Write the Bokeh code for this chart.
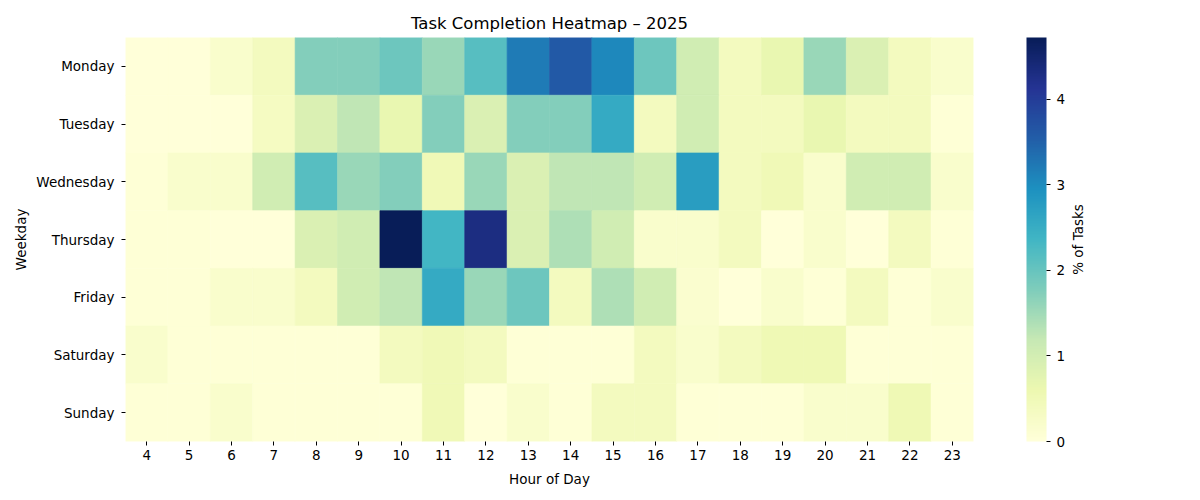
import numpy as np
from bokeh.plotting import figure
from bokeh.layouts import row
from bokeh.models import (ColumnDataSource, LinearColorMapper, ColorBar, FixedTicker)
from bokeh.transform import transform
from bokeh.embed import file_html
from bokeh.resources import INLINE

hours = [str(h) for h in range(4, 24)]
days = ["Monday", "Tuesday", "Wednesday", "Thursday", "Friday", "Saturday", "Sunday"]

monday    = [0.0, 0.0, 0.2, 0.4, 1.75, 1.75, 1.95, 1.55, 2.15, 3.2, 3.6, 3.05, 1.95, 1.05, 0.4, 0.65, 1.55, 0.9, 0.4, 0.2]
tuesday   = [0.0, 0.0, 0.0, 0.35, 0.9, 1.25, 0.65, 1.75, 0.9, 1.75, 1.75, 2.55, 0.4, 1.05, 0.4, 0.4, 0.65, 0.4, 0.4, 0.05]
wednesday = [0.05, 0.2, 0.2, 1.05, 2.15, 1.55, 1.75, 0.5, 1.55, 0.9, 1.25, 1.25, 1.05, 2.75, 0.4, 0.5, 0.2, 1.05, 1.05, 0.2]
thursday  = [0.05, 0.05, 0.0, 0.0, 0.9, 1.05, 4.72, 2.35, 4.3, 0.9, 1.4, 1.05, 0.2, 0.2, 0.4, 0.0, 0.2, 0.0, 0.4, 0.05]
friday    = [0.05, 0.05, 0.2, 0.2, 0.4, 1.05, 1.25, 2.55, 1.55, 1.95, 0.4, 1.4, 1.05, 0.15, 0.0, 0.2, 0.05, 0.4, 0.05, 0.2]
saturday  = [0.2, 0.05, 0.05, 0.05, 0.05, 0.05, 0.4, 0.5, 0.4, 0.05, 0.05, 0.05, 0.4, 0.2, 0.4, 0.55, 0.55, 0.05, 0.05, 0.05]
sunday    = [0.05, 0.05, 0.2, 0.05, 0.05, 0.05, 0.05, 0.5, 0.0, 0.2, 0.05, 0.4, 0.4, 0.05, 0.05, 0.05, 0.2, 0.2, 0.55, 0.05]

rows = [monday, tuesday, wednesday, thursday, friday, saturday, sunday]
VMAX = 4.72
cbar_ticks = [0, 1, 2, 3, 4]

# YlGnBu colormap (light -> dark), interpolated to 256 steps
anchors = ["#ffffd9", "#edf8b1", "#c7e9b4", "#7fcdbb", "#41b6c4",
           "#1d91c0", "#225ea8", "#253494", "#081d58"]
rgb = np.array([[int(c[i:i + 2], 16) for i in (1, 3, 5)] for c in anchors], dtype=float)
pos = np.linspace(0, 1, len(anchors))
t = np.linspace(0, 1, 256)
palette = ["#%02x%02x%02x" % tuple(int(round(np.interp(tt, pos, rgb[:, k]))) for k in range(3)) for tt in t]

xs, ys, vs = [], [], []
for d, r in zip(days, rows):
    for h, v in zip(hours, r):
        xs.append(h); ys.append(d); vs.append(v)
src = ColumnDataSource(dict(hour=xs, day=ys, value=vs))

mapper = LinearColorMapper(palette=palette, low=0, high=VMAX)

FONT = "DejaVu Sans"
W1, W2, H = 1066, 134, 500
BL, BR, BT, BB = 125, 93, 37, 59
FH = H - BT - BB

p = figure(width=W1, height=H, x_range=hours, y_range=list(reversed(days)),
           output_backend="svg", toolbar_location=None,
           title="Task Completion Heatmap – 2025",
           min_border_left=BL, min_border_right=BR, min_border_top=BT, min_border_bottom=BB)
p.rect(x="hour", y="day", width=1, height=1, source=src,
       fill_color=transform("value", mapper), line_color=transform("value", mapper), line_width=0.6)

p.title.align = "center"
p.title.text_font = FONT
p.title.text_font_size = "16.5px"
p.title.text_font_style = "normal"
p.title.text_color = "black"

p.outline_line_color = None
p.grid.grid_line_color = None
p.x_range.range_padding = 0
p.y_range.range_padding = 0

for ax in (p.xaxis[0], p.yaxis[0]):
    ax.axis_line_color = None
    ax.major_tick_in = 0
    ax.major_tick_out = 4
    ax.major_tick_line_color = "black"
    ax.major_label_text_font = FONT
    ax.major_label_text_font_size = "13.5px"
    ax.major_label_text_color = "black"
    ax.axis_label_text_font = FONT
    ax.axis_label_text_font_size = "13.5px"
    ax.axis_label_text_font_style = "normal"
    ax.axis_label_text_color = "black"
p.xaxis.axis_label = "Hour of Day"
p.yaxis.axis_label = "Weekday"
p.xaxis.major_label_standoff = 4
p.yaxis.major_label_standoff = 7
p.xaxis.axis_label_standoff = 8
p.yaxis.axis_label_standoff = 4

cb = ColorBar(color_mapper=mapper, ticker=FixedTicker(ticks=cbar_ticks),
              width=20, height=FH, location=(901, 0), margin=0, padding=0,
              bar_line_color=None,
              major_tick_in=0, major_tick_out=4, major_tick_line_color="black",
              major_label_text_font=FONT, major_label_text_font_size="13.5px",
              major_label_text_color="black", label_standoff=6,
              background_fill_color=None, border_line_color=None)
p.add_layout(cb, "center")

# narrow companion figure carrying the colour-bar caption (reads bottom-to-top)
p2 = figure(width=W2, height=H, x_range=["a"], y_range=["x"],
            output_backend="svg", toolbar_location=None,
            min_border_left=16, min_border_right=0, min_border_top=BT, min_border_bottom=BB)
p2.outline_line_color = None
p2.grid.grid_line_color = None
p2.xaxis.visible = False
ya = p2.yaxis[0]
ya.axis_label = "% of Tasks"
ya.axis_line_color = None
ya.major_tick_line_color = None
ya.major_tick_in = 0
ya.major_tick_out = 0
ya.major_label_text_color = None
ya.major_label_text_font_size = "13.5px"
ya.major_label_standoff = 0
ya.axis_label_standoff = 0
ya.axis_label_text_font = FONT
ya.axis_label_text_font_size = "13.5px"
ya.axis_label_text_font_style = "normal"
ya.axis_label_text_color = "black"

layout = row(p, p2, spacing=0)
open("out.html", "w").write(file_html(layout, INLINE))
